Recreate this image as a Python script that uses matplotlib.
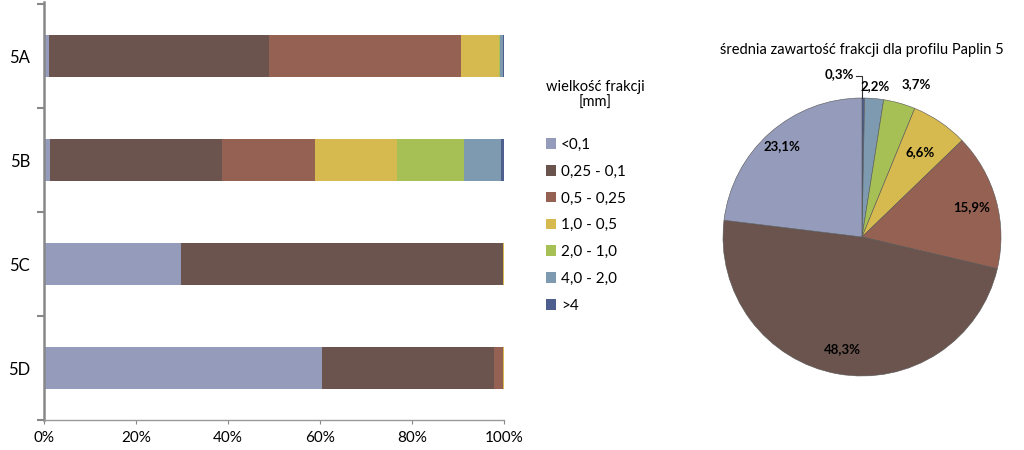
import numpy as np
import matplotlib.pyplot as plt
from matplotlib.patches import Patch

plt.rcParams['font.family'] = ['Lato', 'DejaVu Sans']

profiles = ['5A', '5B', '5C', '5D']
fractions = ['<0,1', '0,25 - 0,1', '0,5 - 0,25', '1,0 - 0,5', '2,0 - 1,0', '4,0 - 2,0', '>4']
colors = ['#949BBB', '#6B544E', '#956152', '#D6B94F', '#A6C056', '#7D9AB0', '#4E5E8F']

# percent share of each fraction per profile (rows = profiles)
share_5A = [1.0, 48.0, 41.7, 8.2, 0.3, 0.5, 0.3]
share_5B = [1.4, 37.4, 20.1, 17.9, 14.5, 8.1, 0.6]
share_5C = [29.8, 70.0, 0.0, 0.2, 0.0, 0.0, 0.0]
share_5D = [60.4, 37.5, 1.9, 0.2, 0.0, 0.0, 0.0]

# mean content for the pie
mean_share = [23.1, 48.3, 15.9, 6.6, 3.7, 2.2, 0.3]

data = np.array([share_5A, share_5B, share_5C, share_5D])

fig = plt.figure(figsize=(10.24, 4.5), dpi=100)

# stacked bar chart
ax = fig.add_axes([44 / 1024, 30 / 450, 460 / 1024, 418 / 450])
y = np.arange(len(profiles))
left = np.zeros(len(profiles))
for i, name in enumerate(fractions):
    ax.barh(y, data[:, i], left=left, height=0.4, color=colors[i], label=name)
    left += data[:, i]

ax.set_xlim(0, 100)
ax.set_ylim(3.5, -0.52)
ax.set_xticks(np.arange(0, 101, 20))
ax.set_xticklabels([f'{v}%' for v in range(0, 101, 20)], fontsize=11)
ax.set_yticks(y)
ax.set_yticklabels(profiles, fontsize=12)
ax.set_yticks(np.arange(-0.5, 3.6, 1), minor=True)
ax.tick_params(axis='y', which='major', length=0, pad=10)
ax.tick_params(axis='y', which='minor', length=5, width=1.5, color='#888888', direction='out')
ax.tick_params(axis='x', length=3, color='#888888', pad=5)
for s in ['top', 'right']:
    ax.spines[s].set_visible(False)
ax.spines['left'].set_color('#888888')
ax.spines['left'].set_linewidth(1.8)
ax.spines['bottom'].set_color('#999999')
ax.spines['bottom'].set_linewidth(1.0)

handles = [Patch(facecolor=c) for c in colors]
leg = fig.legend(handles, fractions, loc='upper left', bbox_to_anchor=(532 / 1024, 1 - 66 / 450),
                 title='wielkość frakcji\n[mm]', frameon=False, fontsize=11,
                 handlelength=0.7, handleheight=0.7, handletextpad=0.3, labelspacing=0.84)
leg.get_title().set_fontsize(10.5)
leg.get_title().set_multialignment('center')
leg._legend_box.sep = 20
leg._legend_box.align = 'left'

# pie chart
pax = fig.add_axes([723 / 1024, 74 / 450, 278 / 1024, 278 / 450])
wedges, _ = pax.pie(mean_share[::-1], colors=colors[::-1], startangle=90, counterclock=False,
                    wedgeprops=dict(edgecolor='#555555', linewidth=0.4))
pax.set_xlim(-1, 1)
pax.set_ylim(-1, 1)
pax.set_aspect('equal')
pax.axis('off')

dist = [1.2, 1.09, 1.17, 0.74, 0.82, 0.82, 0.87]
labels = [f'{v:.1f}%'.replace('.', ',') for v in mean_share[::-1]]
for k, (w, lab) in enumerate(zip(wedges, labels)):
    ang = np.deg2rad((w.theta1 + w.theta2) / 2)
    if k == 2:
        ang -= np.deg2rad(4)
    x, yy = dist[k] * np.cos(ang), dist[k] * np.sin(ang)
    if k == 0:
        # small slice: label moved left with leader line
        tx, ty = -0.16, 1.17
        pax.text(tx, ty, lab, ha='center', va='center', fontsize=9.5, fontweight='bold', clip_on=False)
        pax.plot([-0.04, 0.0, 0.0], [1.16, 1.16, 1.0], color='#333333', lw=0.8, clip_on=False)
    else:
        pax.text(x, yy, lab, ha='center', va='center', fontsize=9.5, fontweight='bold', clip_on=False)

fig.text(862 / 1024, 1 - 50 / 450, 'średnia zawartość frakcji dla profilu Paplin 5',
         ha='center', va='center', fontsize=10.5)

fig.savefig('out.png', dpi=100)
